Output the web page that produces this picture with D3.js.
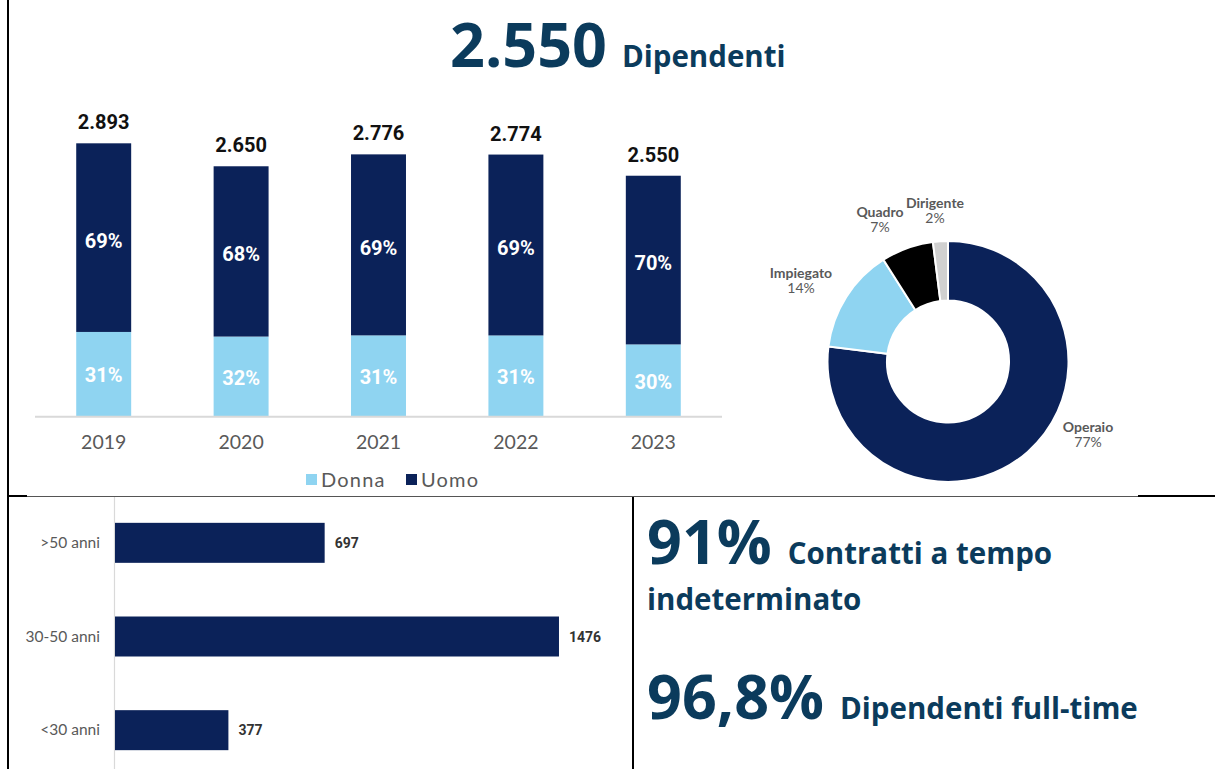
<!DOCTYPE html>
<html>
<head>
<meta charset="utf-8">
<script src="https://cdn.jsdelivr.net/npm/d3@7/dist/d3.min.js"></script>
<style>
  html, body { margin: 0; padding: 0; background: #fff; }
  svg { display: block; }
</style>
</head>
<body>
<svg id="chart" width="1215" height="769"></svg>
<script>
// Headcount by year and share of women
const years = ["2019", "2020", "2021", "2022", "2023"];
const totals = [2893, 2650, 2776, 2774, 2550];
const donnaPct = [31, 32, 31, 31, 30];
const totalLabels = ["2.893", "2.650", "2.776", "2.774", "2.550"];
const legendNames = ["Donna", "Uomo"];

// Workforce by role
const roles = ["Operaio", "Impiegato", "Quadro", "Dirigente"];
const rolePct = [77, 14, 7, 2];

// Workforce by age group
const ageGroups = [">50 anni", "30-50 anni", "<30 anni"];
const ageValues = [697, 1476, 377];

// Headline figures
const headline = { value: "2.550", text: "Dipendenti" };
const kpis = [
  { value: "91%", lines: ["Contratti a tempo", "indeterminato"] },
  { value: "96,8%", lines: ["Dipendenti full-time"] }
];

const NAVY = "#0b2259";
const LIGHT = "#8fd4f1";
const TITLE = "#0b3b5c";
const GREY = "#595959";

const svg = d3.select("#chart");

// ---- frame lines ----
const frame = svg.append("g");
frame.append("line").attr("x1", 8).attr("x2", 8).attr("y1", 0).attr("y2", 769)
  .attr("stroke", "#000").attr("stroke-width", 2);
frame.append("line").attr("x1", 8).attr("x2", 1138).attr("y1", 496.5).attr("y2", 496.5)
  .attr("stroke", "#555").attr("stroke-width", 1.2);
frame.append("line").attr("x1", 8).attr("x2", 27).attr("y1", 496).attr("y2", 496)
  .attr("stroke", "#000").attr("stroke-width", 2);
frame.append("line").attr("x1", 1138).attr("x2", 1215).attr("y1", 496).attr("y2", 496)
  .attr("stroke", "#000").attr("stroke-width", 2.2);
frame.append("line").attr("x1", 633).attr("x2", 633).attr("y1", 497).attr("y2", 769)
  .attr("stroke", "#000").attr("stroke-width", 2);

// ---- headline ----
const head = svg.append("text").attr("x", 450).attr("y", 67)
  .attr("font-family", "Open Sans").attr("font-weight", 700).attr("fill", TITLE);
head.append("tspan").attr("font-size", 61).text(headline.value);
head.append("tspan").attr("font-size", 29.5).attr("dx", 15).text(headline.text);

// ---- stacked columns ----
const x = d3.scaleBand().domain(years).range([35, 722]).paddingInner(0.6).paddingOuter(0.3);
const y = d3.scaleLinear().domain([0, 3000]).range([416.7, 416.7 - 3000 * 0.0945]);

const colData = years.map((yr, i) => {
  const donna = totals[i] * donnaPct[i] / 100;
  return { yr, total: totals[i], donna, uomo: totals[i] - donna, pD: donnaPct[i], pU: 100 - donnaPct[i], label: totalLabels[i] };
});

const cols = svg.append("g");
const colG = cols.selectAll("g").data(colData).join("g");
colG.append("rect")
  .attr("x", d => x(d.yr)).attr("width", x.bandwidth())
  .attr("y", d => y(d.donna)).attr("height", d => y(0) - y(d.donna))
  .attr("fill", LIGHT);
colG.append("rect")
  .attr("x", d => x(d.yr)).attr("width", x.bandwidth())
  .attr("y", d => y(d.total)).attr("height", d => y(d.donna) - y(d.total))
  .attr("fill", NAVY);
colG.append("text")
  .attr("x", d => x(d.yr) + x.bandwidth() / 2)
  .attr("y", d => (y(d.donna) + y(0)) / 2 + 8)
  .attr("text-anchor", "middle").attr("font-family", "Roboto").attr("font-weight", 700)
  .attr("font-size", 20).attr("fill", "#fff").text(d => d.pD + "%");
colG.append("text")
  .attr("x", d => x(d.yr) + x.bandwidth() / 2)
  .attr("y", d => (y(d.total) + y(d.donna)) / 2 + 10)
  .attr("text-anchor", "middle").attr("font-family", "Roboto").attr("font-weight", 700)
  .attr("font-size", 20).attr("fill", "#fff").text(d => d.pU + "%");
colG.append("text")
  .attr("x", d => x(d.yr) + x.bandwidth() / 2)
  .attr("y", d => y(d.total) - 14)
  .attr("text-anchor", "middle").attr("font-family", "Roboto").attr("font-weight", 700)
  .attr("font-size", 20).attr("fill", "#111").text(d => d.label);

const xAxis = svg.append("g").attr("transform", `translate(0,${y(0)})`)
  .call(d3.axisBottom(x).tickSize(0).tickPadding(18));
xAxis.select(".domain").attr("d", "M35,0H722").attr("stroke", "#d9d9d9").attr("stroke-width", 2);
xAxis.selectAll("text").attr("font-family", "Lato").attr("font-size", 19.5).attr("fill", GREY);

// legend
const legendColors = [LIGHT, NAVY];
const legendX = [306, 406];
const leg = svg.append("g").selectAll("g").data(legendNames).join("g")
  .attr("transform", (d, i) => `translate(${legendX[i]},474)`);
leg.append("rect").attr("width", 11).attr("height", 11).attr("fill", (d, i) => legendColors[i]);
leg.append("text").attr("x", 15).attr("y", 12.5).attr("font-family", "Lato").attr("font-size", 20)
  .attr("letter-spacing", 1.2).attr("fill", GREY).text(d => d);

// ---- donut by role ----
const cx = 948, cy = 361.5;
const pie = d3.pie().sort(null).value(d => d.v);
const arcs = pie(roles.map((r, i) => ({ r, v: rolePct[i] })));
const arc = d3.arc().innerRadius(61).outerRadius(120.5);
const roleColors = [NAVY, LIGHT, "#000000", "#d0d0d0"];
const donut = svg.append("g").attr("transform", `translate(${cx},${cy})`);
donut.selectAll("path").data(arcs).join("path")
  .attr("d", arc).attr("fill", (d, i) => roleColors[i])
  .attr("stroke", "#fff").attr("stroke-width", 2);

const roleLabelPos = [[1088, 432], [801, 278], [880, 217], [935, 208]];
const rl = svg.append("g").selectAll("text").data(arcs).join("text")
  .attr("x", (d, i) => roleLabelPos[i][0]).attr("y", (d, i) => roleLabelPos[i][1])
  .attr("text-anchor", "middle").attr("font-family", "Lato").attr("font-size", 14).attr("fill", GREY);
rl.append("tspan").attr("font-weight", 700).text(d => d.data.r);
rl.append("tspan").attr("x", (d, i) => roleLabelPos[i][0]).attr("dy", 15).text(d => d.data.v + "%");

// ---- horizontal bars by age ----
const hx = d3.scaleLinear().domain([0, 1500]).range([115, 115 + 1500 * 0.3008]);
const hy = d3.scaleBand().domain(ageGroups).range([496, 777]).paddingInner(0.573).paddingOuter(0.2865);

svg.append("line").attr("x1", 114.5).attr("x2", 114.5).attr("y1", 497).attr("y2", 769)
  .attr("stroke", "#d9d9d9").attr("stroke-width", 1.2);

const hb = svg.append("g").selectAll("g").data(ageGroups.map((a, i) => ({ a, v: ageValues[i] }))).join("g");
hb.append("rect").attr("x", hx(0)).attr("y", d => hy(d.a))
  .attr("width", d => hx(d.v) - hx(0)).attr("height", hy.bandwidth()).attr("fill", NAVY);
hb.append("text").attr("x", d => hx(d.v) + 10).attr("y", d => hy(d.a) + hy.bandwidth() / 2 + 5)
  .attr("font-family", "Roboto").attr("font-weight", 700).attr("font-size", 14).attr("fill", "#333")
  .text(d => d.v);
hb.append("text").attr("x", 100).attr("y", d => hy(d.a) + hy.bandwidth() / 2 + 5)
  .attr("text-anchor", "end").attr("font-family", "Lato").attr("font-size", 15.5).attr("fill", GREY)
  .text(d => d.a);

// ---- KPI text ----
const kpiY = [[564, 610], [719]];
kpis.forEach((k, i) => {
  const t = svg.append("text").attr("x", 647).attr("y", kpiY[i][0])
    .attr("font-family", "Open Sans").attr("font-weight", 700).attr("fill", TITLE);
  t.append("tspan").attr("font-size", 61).text(k.value);
  t.append("tspan").attr("font-size", 29.5).attr("dx", 16).text(k.lines[0]);
  if (k.lines[1]) {
    svg.append("text").attr("x", 647).attr("y", kpiY[i][1])
      .attr("font-family", "Open Sans").attr("font-weight", 700).attr("font-size", 29.5)
      .attr("fill", TITLE).text(k.lines[1]);
  }
});
</script>
</body>
</html>
